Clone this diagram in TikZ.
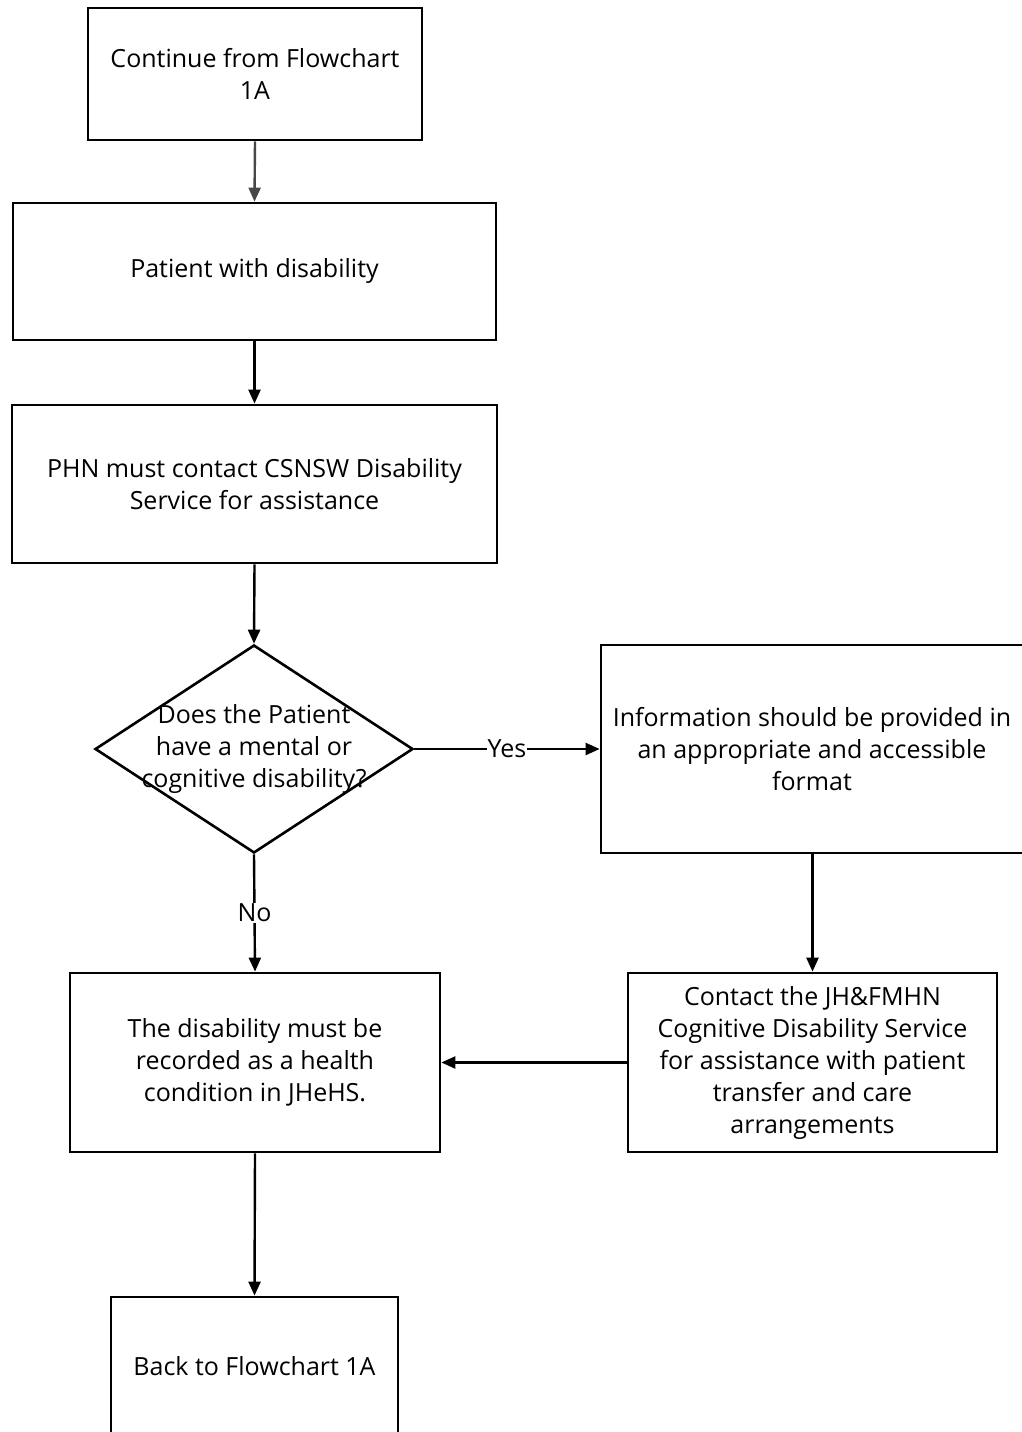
\documentclass[tikz,border=0pt]{standalone}
\usepackage{fontspec}
\setmainfont{Open Sans}
\usetikzlibrary{arrows.meta,shapes.geometric}
\begin{document}
\begin{tikzpicture}[x=1pt,y=-1pt,
  font=\fontsize{25}{32}\selectfont,
  box/.style={draw=black,line width=2.8pt,inner sep=0pt,align=center},
  conn/.style={line width=2.4pt,-{Triangle[length=14pt,width=12pt]}},
  lbl/.style={fill=white,inner sep=1pt,font=\fontsize{25}{28}\selectfont}]
\clip (0,0) rectangle (1022,1432);
\fill[white] (0,0) rectangle (1022,1432);
\node[box,minimum width=334pt,minimum height=132pt] (b1) at (255,74) {Continue from Flowchart\\1A};
\node[box,minimum width=483pt,minimum height=137pt] (b2) at (254.5,271.5) {Patient with disability};
\node[box,minimum width=485pt,minimum height=158pt] (b3) at (254.5,484) {PHN must contact CSNSW Disability\\Service for assistance};
\node[draw=black,line width=2.6pt,shape=diamond,inner sep=0pt,minimum width=318pt,minimum height=208pt] (d) at (254,749) {};
\node[align=center,inner sep=0pt] (dt) at (d.center) {Does the Patient\\have a mental or\\cognitive disability?};
\node[box,minimum width=424pt,minimum height=208pt] (b4) at (813,749) {};
\node[align=center,inner sep=0pt] (b4t) at (812,749) {Information should be provided in\\an appropriate and accessible\\format};
\node[box,minimum width=369pt,minimum height=179pt] (b5) at (812.5,1062.5) {Contact the JH\&FMHN\\Cognitive Disability Service\\for assistance with patient\\transfer and care\\arrangements};
\node[box,minimum width=370pt,minimum height=179pt] (b6) at (255,1062.5) {The disability must be\\recorded as a health\\condition in JHeHS.};
\node[box,minimum width=287pt,minimum height=138pt] (b7) at (254.5,1366) {Back to Flowchart 1A};
\draw[conn,draw=black!72,-{Triangle[length=14pt,width=12pt,fill=black!72]}] (b1.south) -- (b2.north);
\draw[conn] (b2.south) -- (b3.north);
\draw[conn] (b3.south) -- (d.north);
\draw[conn] (d.east) -- node[lbl] (yes) {Yes} (b4.west);
\draw[conn] (d.south) -- node[lbl] (no) {No} (b6.north);
\draw[conn] (b4.south -| b5.north) -- (b5.north);
\draw[conn] (b5.west) -- (b6.east);
\draw[conn] (b6.south) -- (b7.north);
\end{tikzpicture}
\end{document}
